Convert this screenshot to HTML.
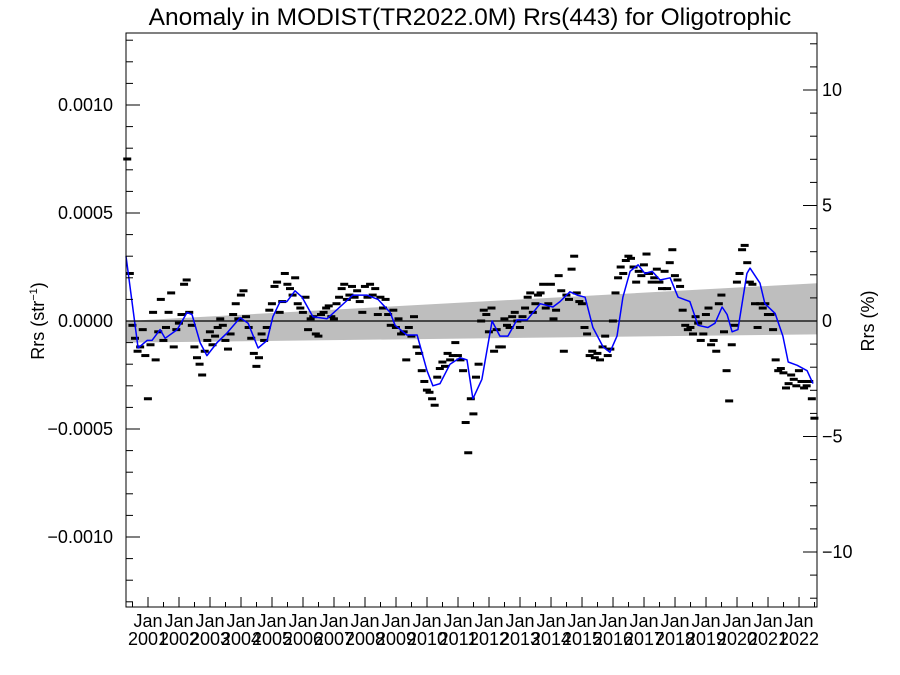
<!DOCTYPE html>
<html><head><meta charset="utf-8"><style>
html,body{margin:0;padding:0;background:#fff;}
svg{display:block;font-family:"Liberation Sans",sans-serif;}
</style></head><body>
<svg id="chart" width="900" height="675" viewBox="0 0 900 675" xmlns="http://www.w3.org/2000/svg">
<text x="470" y="25" font-size="24.5" text-anchor="middle">Anomaly in MODIST(TR2022.0M) Rrs(443) for Oligotrophic</text>
<g id="band"></g>
<g id="zero"></g>
<g id="dashes"></g>
<g id="smooth"></g>
<g id="axes"></g>
<text transform="translate(44,321) rotate(-90)" font-size="18" text-anchor="middle">Rrs (str<tspan font-size="11" dy="-7">−1</tspan><tspan dy="7">)</tspan></text>
<text transform="translate(874,321) rotate(-90)" font-size="18" text-anchor="middle">Rrs (%)</text>
</svg>
<script>
// monthly anomalies (units 1e-4 sr^-1), starting May 2000
const monthStart = 2000.33;
const monthly = [
7.5,2.2,-0.2,-0.8,-1.4,-1.2,-0.4,-1.6,
-3.6,-1.1,0.4,-1.8,-0.5,1.0,-0.9,-0.3,0.4,1.3,-1.2,-0.4,
-0.1,0.3,1.7,1.9,0.4,-0.2,-1.2,-1.7,-2.0,-2.5,-1.4,-0.9,
-0.5,-1.1,-0.7,-0.3,0.1,-0.2,-0.9,-1.3,-0.6,0.3,0.8,0.1,
1.2,1.4,0.2,-0.3,-0.8,-1.5,-2.1,-1.7,-0.6,-0.9,-0.3,0.5,
0.8,1.6,1.8,0.4,0.9,2.2,1.7,1.5,1.2,2.0,0.8,0.6,
0.4,1.1,-0.4,0.1,0.2,-0.6,-0.7,0.3,0.4,0.6,0.7,0.2,
0.1,0.8,1.1,1.5,1.7,1.0,1.2,1.6,1.1,1.4,0.9,0.4,
1.6,1.1,1.7,1.2,1.5,0.3,1.1,0.6,1.0,0.3,-0.2,0.5,
-0.3,0.1,-0.6,-0.5,-1.8,-0.3,-0.7,0.2,-1.2,-1.5,-2.3,-2.8,
-3.2,-3.3,-3.6,-3.9,-2.6,-2.2,-1.9,-2.1,-1.5,-1.8,-1.6,-1.0,
-1.6,-1.8,-2.3,-4.7,-6.1,-3.6,-4.3,-2.6,-2.0,0.0,0.5,0.3,
-0.5,0.6,-1.4,-0.4,-1.2,-1.2,0.1,-0.2,-0.3,0.2,0.4,0.0,
-0.3,0.2,0.6,1.1,1.3,0.4,0.8,1.2,1.3,1.7,0.6,0.8,
1.7,0.1,0.5,2.1,1.4,-1.4,1.2,1.0,2.4,3.0,1.3,0.9,
0.8,-0.3,-0.6,-1.6,-1.4,-1.7,-1.5,-1.8,-1.2,-0.7,-1.6,-1.3,
0.0,1.3,2.0,2.5,2.2,2.8,3.0,2.9,2.5,1.8,2.3,2.1,
2.6,3.1,2.2,1.8,2.0,2.4,1.8,1.5,2.3,1.5,2.7,3.3,
2.1,1.9,1.6,0.5,-0.2,-0.4,-0.3,-0.6,0.2,-0.1,-0.9,-0.6,
0.3,0.6,-1.1,-0.9,-1.4,0.8,1.2,-0.5,-2.3,-3.7,-1.1,-0.2,
1.8,2.2,3.3,3.5,2.7,1.8,1.7,0.8,-0.3,0.8,0.6,0.8,
0.3,0.3,-0.4,-1.8,-2.3,-2.2,-2.4,-3.1,-2.9,-2.5,-2.7,-3.0,
-2.3,-2.8,-3.1,-3.0,-2.8,-3.6,-4.5
];
// smoothed series: dates (decimal year) and values (1e-4)
const smoothT = [2000.29,2000.68,2000.97,2001.13,2001.39,2001.55,2001.94,2002.26,2002.42,2002.68,
2002.90,2003.23,2003.55,2003.97,2004.23,2004.55,2004.84,2005.03,2005.26,2005.48,
2005.74,2005.97,2006.32,2006.77,2007.19,2007.61,2008.06,2008.42,2008.81,2008.97,
2009.35,2009.68,2010.00,2010.19,2010.42,2010.74,2011.06,2011.29,2011.48,2011.77,
2012.10,2012.35,2012.61,2012.90,2013.23,2013.65,2014.06,2014.29,2014.61,2014.84,
2015.10,2015.35,2015.68,2015.90,2016.13,2016.32,2016.55,2016.81,2017.03,2017.26,
2017.52,2017.84,2018.10,2018.48,2018.74,2019.06,2019.29,2019.52,2019.68,2019.84,
2020.03,2020.32,2020.42,2020.74,2020.90,2021.23,2021.48,2021.65,2021.94,2022.26,2022.45];
const smoothV = [3.0,-1.25,-0.9,-0.9,-0.4,-0.8,-0.4,0.4,0.3,-1.0,
-1.6,-1.0,-0.55,0.15,-0.1,-1.25,-0.9,0.2,0.9,0.9,
1.4,1.1,0.2,0.1,0.65,1.2,1.2,1.0,0.4,-0.2,
-0.65,-0.65,-2.3,-3.0,-2.9,-2.0,-1.7,-1.8,-3.6,-2.7,
0.0,-0.7,-0.7,0.05,0.05,0.8,0.65,0.9,1.35,1.2,
1.1,-0.3,-1.2,-1.45,-0.7,1.1,2.3,2.6,2.2,2.3,
1.9,2.0,1.1,0.9,-0.2,-0.3,-0.1,0.65,0.3,-0.5,
-0.4,2.2,2.45,1.75,0.8,0.35,-0.7,-1.9,-2.05,-2.3,-2.9];
// trend band bounds (1e-4) at start/end of the axis
const bandUpper = [0.0, 1.75];
const bandLower = [-1.0, -0.62];
const yTicksLeft = [0.0010,0.0005,0.0000,-0.0005,-0.0010];
const yTickLabelsLeft = ["0.0010","0.0005","0.0000","\u22120.0005","\u22120.0010"];
const yTicksRight = [10,5,0,-5,-10];
const yTickLabelsRight = ["10","5","0","\u22125","\u221210"];
const xYears = [2001,2002,2003,2004,2005,2006,2007,2008,2009,2010,2011,2012,2013,2014,2015,2016,2017,2018,2019,2020,2021,2022];

const L=126,R=817,T=33,B=607;
const t0=2000.29, t1=2022.58;
const X=t=>L+(t-t0)/(t1-t0)*(R-L);
const Y=v=>321-v*216;
const Yp=p=>321-p*23.1;
const Y4=v=>Y(v/10);
const NS="http://www.w3.org/2000/svg";
function mk(tag,attrs,parent){const e=document.createElementNS(NS,tag);for(const k in attrs)e.setAttribute(k,attrs[k]);parent.appendChild(e);return e;}

const band=document.getElementById('band');
const poly=mk('polygon',{points:`${L},${Y4(bandUpper[0])} ${R},${Y4(bandUpper[1])} ${R},${Y4(bandLower[1])} ${L},${Y4(bandLower[0])}`,fill:'#bebebe'},band);


const zl=mk('line',{x1:L,x2:R,y1:Y(0),y2:Y(0),stroke:'#000','stroke-width':1.3},document.getElementById('zero'));


const dg=document.getElementById('dashes');
monthly.forEach((v,i)=>{const x=X(monthStart+i/12);
  const r=mk('rect',{x:x-4,y:Y4(v)-1.5,width:8,height:3,fill:'#000'},dg);
  
  });
const pts=smoothT.map((t,i)=>X(t).toFixed(1)+','+Y4(smoothV[i]).toFixed(1)).join(' ');
const sl=mk('polyline',{points:pts,fill:'none',stroke:'#0000ff','stroke-width':1.5,'stroke-linejoin':'round'},document.getElementById('smooth'));



const ax=document.getElementById('axes');
mk('rect',{x:L,y:T,width:R-L,height:B-T,fill:'none',stroke:'#000','stroke-width':1},ax);
for(let v=-1.3;v<=1.31;v+=0.1){const vv=Math.round(v*10)/10;const y=Y(vv);if(y<T||y>B)continue;
  const major=Math.abs(vv*2-Math.round(vv*2))<1e-6;
  mk('line',{x1:L,x2:L+(major?14:7),y1:y,y2:y,stroke:'#000'},ax);}
for(let p=-12;p<=12;p++){const y=Yp(p);if(y<T||y>B)continue;
  mk('line',{x1:R,x2:R-(p%5===0?14:7),y1:y,y2:y,stroke:'#000'},ax);}
yTicksLeft.forEach((v,i)=>{const t=mk('text',{x:113,y:Y(v*1000)+6,'font-size':18,'text-anchor':'end'},ax);t.textContent=yTickLabelsLeft[i];
  
  });
yTicksRight.forEach((p,i)=>{const t=mk('text',{x:822,y:Yp(p)+6,'font-size':18},ax);t.textContent=yTickLabelsRight[i];
  
  });
for(let t=2000.5;t<=t1;t+=0.5){const x=X(t);const major=Math.abs(t-Math.round(t))<1e-6;
  mk('line',{x1:x,x2:x,y1:B,y2:B-(major?10:5),stroke:'#000'},ax);}
xYears.forEach(yr=>{const x=X(yr);
  const a=mk('text',{x:x,y:627,'font-size':18,'text-anchor':'middle'},ax);a.textContent='Jan';
  
  
  const b=mk('text',{x:x,y:645,'font-size':18,'text-anchor':'middle'},ax);b.textContent=String(yr);
  
  });
</script>
</body></html>
